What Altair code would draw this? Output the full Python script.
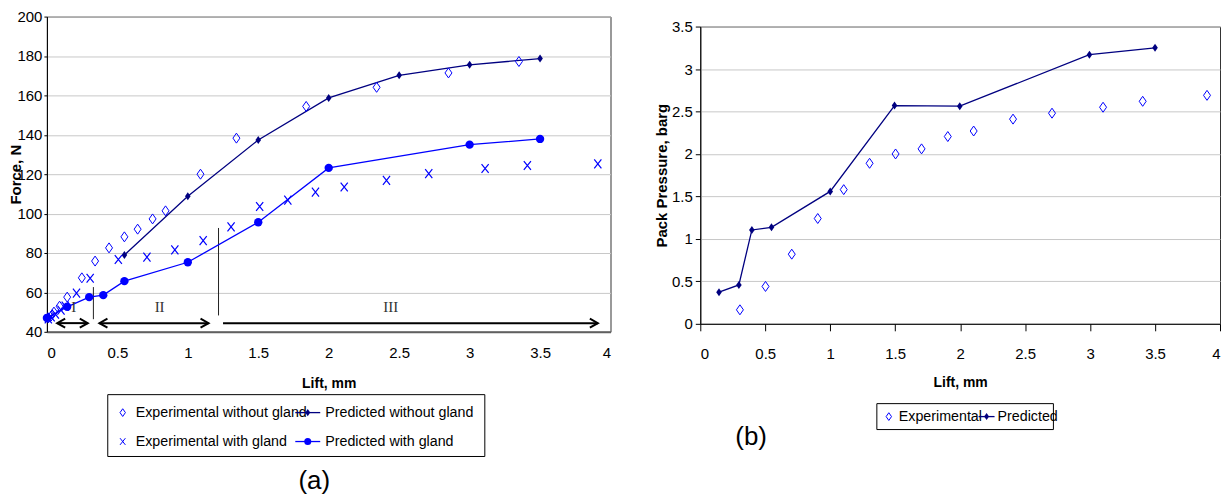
import altair as alt
import pandas as pd

# ---------------- (a) Force vs lift ----------------
exp_wo_lift = [0.01, 0.03, 0.05, 0.09, 0.144, 0.248, 0.342, 0.441, 0.55, 0.644, 0.75, 0.842,
               1.09, 1.345, 1.84, 2.34, 2.85, 3.35]
exp_wo_force = [47, 48, 50, 53, 57.6, 67.4, 75.9, 82.6, 88.2, 92.1, 97.3, 101.4,
                120, 138.3, 154.4, 164.1, 171.4, 177.2]

exp_w_lift = [0.01, 0.03, 0.06, 0.1, 0.13, 0.21, 0.307, 0.507, 0.71, 0.908, 1.109, 1.307,
              1.51, 1.71, 1.906, 2.11, 2.41, 2.71, 3.11, 3.41, 3.91]
exp_w_force = [46.5, 47.5, 49, 51, 53, 59.6, 67.2, 76.7, 77.9, 81.6, 86.3, 93.3,
               103.6, 106.8, 110.9, 113.5, 116.9, 120.3, 122.9, 124.4, 125.2]

pred_wo_lift = [0.55, 1.0, 1.5, 2.0, 2.5, 3.0, 3.5]
pred_wo_force = [79, 108.8, 137.4, 158.7, 170.2, 175.5, 178.7]

pred_w_lift = [0.0, 0.144, 0.3, 0.4, 0.55, 1.0, 1.5, 2.0, 3.0, 3.5]
pred_w_force = [47, 52.7, 57.6, 58.6, 65.7, 75.3, 95.6, 123.2, 135.0, 137.9]

zone_names = ["I", "II", "III"]
zone_start = [0.073, 0.373, 1.25]
zone_end = [0.29, 1.147, 3.91]
zone_label_lift = [0.19, 0.8, 2.44]
zone_label_force = 52.5
zone_arrow_force = 44.4
divider_lift = [0.33, 1.218]
divider_bottom = [46.4, 48.3]
divider_top = [62.7, 92.7]

legend_a = ["Experimental without gland", "Predicted without gland",
            "Experimental with gland", "Predicted with gland"]

# ---------------- (b) Pack pressure vs lift ----------------
b_exp_lift = [0.305, 0.502, 0.704, 0.904, 1.104, 1.303, 1.503, 1.703, 1.905, 2.104,
              2.407, 2.707, 3.1, 3.405, 3.9]
b_exp_press = [0.165, 0.44, 0.82, 1.24, 1.58, 1.89, 2.0, 2.06, 2.205, 2.27,
               2.41, 2.48, 2.55, 2.62, 2.69]
b_pred_lift = [0.144, 0.297, 0.397, 0.548, 1.0, 1.495, 1.997, 2.995, 3.5]
b_pred_press = [0.372, 0.458, 1.105, 1.136, 1.559, 2.57, 2.562, 3.169, 3.25]

legend_b = ["Experimental", "Predicted"]

# ---------------- styles ----------------
FONT = "Liberation Sans Narrow, Liberation Sans, Arial, sans-serif"
SERIF = "Liberation Serif, Times New Roman, serif"
BLUE = "#0000ff"
NAVY = "#000080"
DIAMOND = "M0,-1L0.7,0L0,1L-0.7,0Z"
XMARK = "M-0.8,-1L0.8,1M-0.8,1L0.8,-1"
CHEV_R = "M-2,-1.1L0,0L-2,1.1"
CHEV_L = "M2,-1.1L0,0L2,1.1"

ONE = pd.DataFrame({"k": [0]})

WA, HA = 565, 316
WB, HB = 521, 298
LEG_FS = 14.3


def xy(x, y):
    return pd.DataFrame({"lift": x, "val": y})


def text_at(s, x, y, size=LEG_FS, font=FONT, align="left", **kw):
    return alt.Chart(ONE).mark_text(text=s, align=align, baseline="middle", font=font,
                                    fontSize=size, color="black", **kw).encode(
        x=alt.value(x), y=alt.value(y))


def point_at(x, y, **kw):
    return alt.Chart(ONE).mark_point(opacity=1, **kw).encode(x=alt.value(x), y=alt.value(y))


def rule_at(x1, x2, y, color):
    return alt.Chart(ONE).mark_rule(color=color, strokeWidth=1.3).encode(
        x=alt.value(x1), x2=alt.value(x2), y=alt.value(y))


def box_at(x1, x2, y1, y2):
    return alt.Chart(ONE).mark_rect(fill="white", stroke="black", strokeWidth=1).encode(
        x=alt.value(x1), x2=alt.value(x2), y=alt.value(y1), y2=alt.value(y2))


# ----- axes (a)
xA_scale = alt.Scale(domain=[0, 4], nice=False, zero=False)
yA_scale = alt.Scale(domain=[40, 200], nice=False, zero=False)
xA_axis = alt.Axis(values=[0, 0.5, 1, 1.5, 2, 2.5, 3, 3.5, 4], format="~g", grid=False,
                   ticks=False, labelPadding=14, labelFont=FONT, labelFontSize=15,
                   labelColor="black", domainColor="#606060", domainWidth=2,
                   title="Lift, mm", titleFont=FONT, titleFontSize=14, titleFontWeight="bold",
                   titleColor="black", titleX=WA / 2, titleY=52, titleAlign="center",
                   titleBaseline="middle")
yA_axis = alt.Axis(values=list(range(40, 201, 20)), format="d", grid=True, gridColor="#c8c8c8",
                   tickSize=3, tickColor="black", labelPadding=2, labelFont=FONT,
                   labelFontSize=15, labelColor="black", domainColor="black",
                   title="Force, N", titleFont=FONT, titleFontSize=15, titleFontWeight="bold",
                   titleColor="black", titleX=-31, titleY=HA / 2, titleAlign="center",
                   titleBaseline="middle", titleAngle=270)


def encA(df_chart, **extra):
    return df_chart.encode(x=alt.X("lift:Q", scale=xA_scale, axis=xA_axis),
                           y=alt.Y("val:Q", scale=yA_scale, axis=yA_axis), **extra)


pw = xy(pred_wo_lift, pred_wo_force)
pg = xy(pred_w_lift, pred_w_force)
ew = xy(exp_wo_lift, exp_wo_force)
eg = xy(exp_w_lift, exp_w_force)

dividers = pd.DataFrame({"lift": divider_lift, "val": divider_bottom, "top": divider_top})
arrows = pd.DataFrame({"lift": zone_start, "end": zone_end,
                       "val": [zone_arrow_force] * 3})
heads_l = pd.DataFrame({"lift": zone_start[:2], "val": [zone_arrow_force] * 2})
heads_r = pd.DataFrame({"lift": zone_end, "val": [zone_arrow_force] * 3})
zlabels = pd.DataFrame({"lift": zone_label_lift, "val": [zone_label_force] * 3,
                        "name": zone_names})

layersA = [
    encA(alt.Chart(dividers).mark_rule(color="#222222", strokeWidth=1),
         y2="top:Q"),
    encA(alt.Chart(arrows).mark_rule(color="black", strokeWidth=2), x2="end:Q"),
    encA(alt.Chart(heads_l).mark_point(shape=CHEV_L, size=64, filled=False, color="black",
                                       strokeWidth=2, opacity=1)),
    encA(alt.Chart(heads_r).mark_point(shape=CHEV_R, size=64, filled=False, color="black",
                                       strokeWidth=2, opacity=1)),
    encA(alt.Chart(pw).mark_line(color=NAVY, strokeWidth=1.3)),
    encA(alt.Chart(pw).mark_point(shape=DIAMOND, size=64, filled=True, color=NAVY, opacity=1)),
    encA(alt.Chart(pg).mark_line(color=BLUE, strokeWidth=1.3)),
    encA(alt.Chart(pg).mark_point(shape="circle", size=70, filled=True, color=BLUE, opacity=1)),
    encA(alt.Chart(ew).mark_point(shape=DIAMOND, size=100, filled=False, color=BLUE,
                                  strokeWidth=1, opacity=1)),
    encA(alt.Chart(eg).mark_point(shape=XMARK, size=80, filled=False, color=BLUE,
                                  strokeWidth=1.2, opacity=1)),
    encA(alt.Chart(zlabels).mark_text(font=SERIF, fontSize=15, color="#333333",
                                      baseline="middle"), text="name:N"),
    # legend (a)
    box_at(61, 439, 379, 441),
    point_at(76, 397, shape=DIAMOND, size=60, filled=False, color=BLUE, strokeWidth=1),
    text_at(legend_a[0], 89, 397),
    rule_at(249, 274, 397, NAVY),
    point_at(261.5, 397, shape=DIAMOND, size=50, filled=True, color=NAVY),
    text_at(legend_a[1], 279, 397),
    point_at(76, 426, shape=XMARK, size=45, filled=False, color=BLUE, strokeWidth=1),
    text_at(legend_a[2], 89, 426),
    rule_at(249, 274, 426, BLUE),
    point_at(261.5, 426, shape="circle", size=50, filled=True, color=BLUE),
    text_at(legend_a[3], 279, 426),
    text_at("(a)", 268, 466, size=26, font="Liberation Sans, Arial, sans-serif", align="center"),
]
chartA = alt.layer(*layersA).properties(width=WA, height=HA)

# ----- axes (b)
xB_scale = alt.Scale(domain=[0, 4], nice=False, zero=False)
yB_scale = alt.Scale(domain=[0, 3.5], nice=False, zero=False)
xB_axis = alt.Axis(values=[0, 0.5, 1, 1.5, 2, 2.5, 3, 3.5, 4], format="~g", grid=False,
                   tickSize=7, tickColor="black", labelPadding=16, labelFont=FONT,
                   labelFontSize=15, labelColor="black", domainColor="black",
                   title="Lift, mm", titleFont=FONT, titleFontSize=14, titleFontWeight="bold",
                   titleColor="black", titleX=WB / 2, titleY=59, titleAlign="center",
                   titleBaseline="middle")
yB_axis = alt.Axis(values=[0, 0.5, 1, 1.5, 2, 2.5, 3, 3.5], format="~g", grid=True,
                   gridColor="#c8c8c8", tickSize=5, tickColor="black", labelPadding=3,
                   labelFont=FONT, labelFontSize=15, labelColor="black", domainColor="black",
                   title="Pack Pressure, barg", titleFont=FONT, titleFontSize=15,
                   titleFontWeight="bold", titleColor="black", titleX=-39, titleY=HB / 2,
                   titleAlign="center", titleBaseline="middle", titleAngle=270)


def encB(df_chart, **extra):
    return df_chart.encode(x=alt.X("lift:Q", scale=xB_scale, axis=xB_axis),
                           y=alt.Y("val:Q", scale=yB_scale, axis=yB_axis), **extra)


bp = xy(b_pred_lift, b_pred_press)
be = xy(b_exp_lift, b_exp_press)

layersB = [
    encB(alt.Chart(bp).mark_line(color=NAVY, strokeWidth=1.3)),
    encB(alt.Chart(bp).mark_point(shape=DIAMOND, size=64, filled=True, color=NAVY, opacity=1)),
    encB(alt.Chart(be).mark_point(shape=DIAMOND, size=100, filled=False, color=BLUE,
                                  strokeWidth=1, opacity=1)),
    box_at(177, 354, 378, 404),
    point_at(189, 391, shape=DIAMOND, size=60, filled=False, color=BLUE, strokeWidth=1),
    text_at(legend_b[0], 199, 391),
    rule_at(279, 295, 391, NAVY),
    point_at(287, 391, shape=DIAMOND, size=50, filled=True, color=NAVY),
    text_at(legend_b[1], 298, 391),
    text_at("(b)", 51, 411, size=26, font="Liberation Sans, Arial, sans-serif", align="center"),
]
chartB = alt.layer(*layersB).properties(width=WB, height=HB)

spacer = alt.Chart(ONE).mark_point(opacity=0).encode(
    x=alt.value(0), y=alt.value(0)
).properties(width=1, height=1, view=alt.ViewBackground(stroke="transparent"))

panelB = alt.vconcat(spacer, chartB, spacing=-2)

chart = alt.hconcat(chartA, panelB, spacing=42).properties(
    padding={"left": 0, "top": 0, "right": 0, "bottom": 0}
).configure_view(stroke="#333333", strokeWidth=1)

chart.save("out.html", embed_options={"renderer": "svg", "actions": False})
